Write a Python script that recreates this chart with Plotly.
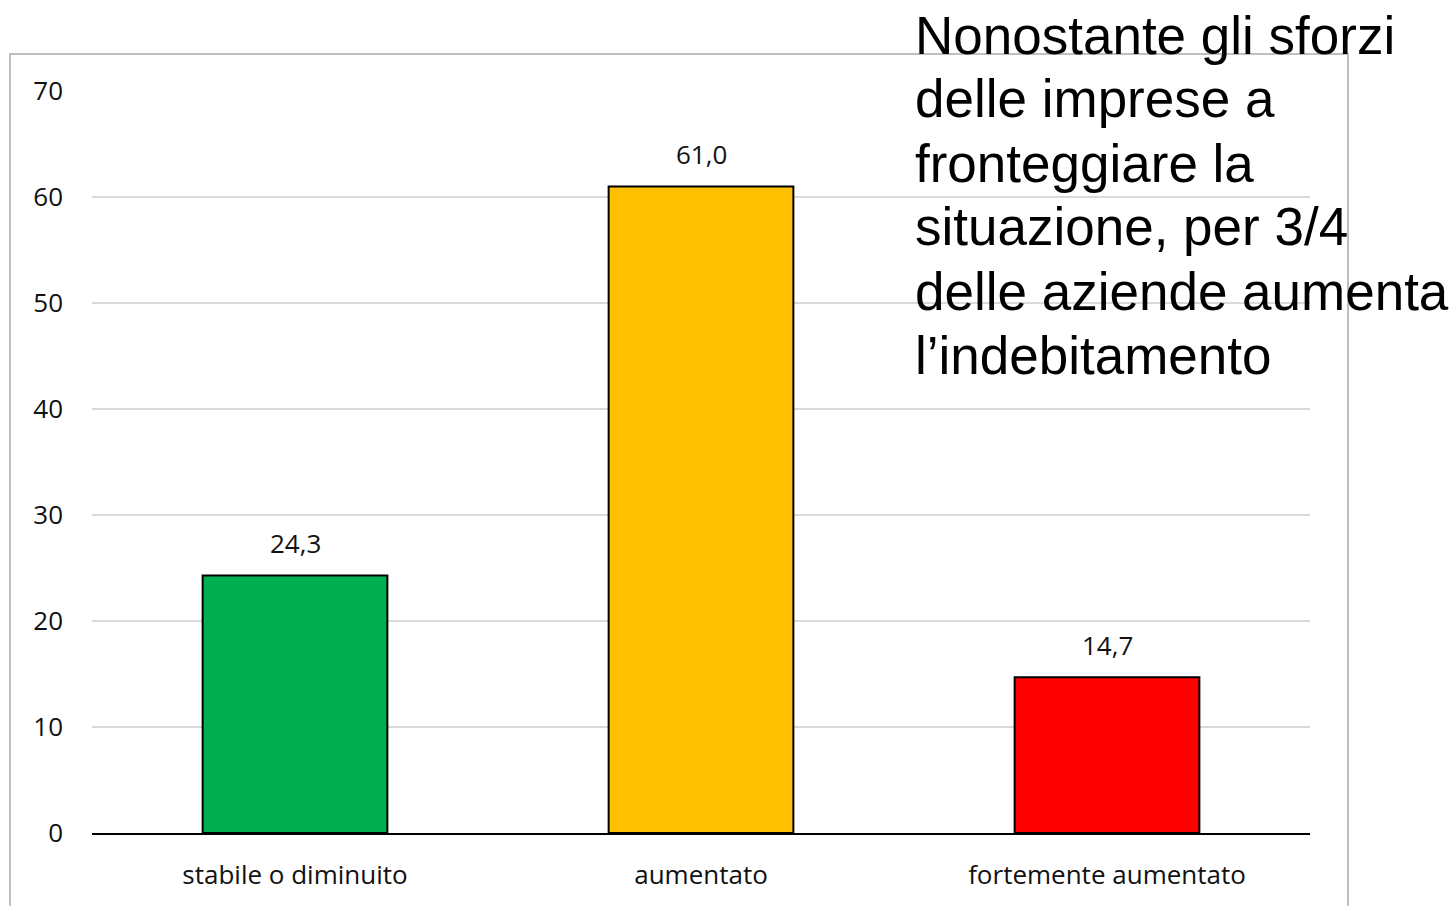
import plotly.graph_objects as go

categories = ['stabile o diminuito', 'aumentato', 'fortemente aumentato']
values = [24.3, 61.0, 14.7]
bar_colors = ['#00b050', '#ffc000', '#ff0000']
y_ticks = [0, 10, 20, 30, 40, 50, 60, 70]
note_lines = ['Nonostante gli sforzi', 'delle imprese a', 'fronteggiare la',
              'situazione, per 3/4', 'delle aziende aumenta', 'l\u2019indebitamento']

W, H = 1454, 906
L, R, T, B = 92, 144, 91, 73
pw, ph = W - L - R, H - T - B


def px(x):
    return (x - L) / pw


def py(y):
    return (H - B - y) / ph


fig = go.Figure()
fig.add_trace(go.Bar(
    x=categories, y=values,
    marker=dict(color=bar_colors, line=dict(color='black', width=2)),
    hoverinfo='skip'
))

# data labels sitting above each bar
for c, v in zip(categories, values):
    fig.add_annotation(x=c, y=v, text=f'{v:.1f}'.replace('.', ','),
                       showarrow=False, yanchor='middle', yshift=32,
                       font=dict(family='Open Sans, sans-serif', size=26, color='#111111'))

# the big note at top right, one line per annotation to keep the tight spacing
for i, line in enumerate(note_lines):
    fig.add_annotation(xref='paper', yref='paper', x=px(913), y=py(35 + 64 * i),
                       xanchor='left', yanchor='middle', align='left', showarrow=False,
                       text=line,
                       font=dict(family='Liberation Sans, Arial, sans-serif', size=53, color='black'))

# chart frame
fig.add_shape(type='rect', xref='paper', yref='paper',
              x0=px(10), x1=px(1348), y0=py(930), y1=py(54),
              line=dict(color='#bfbfbf', width=2), layer='below')

fig.update_layout(
    width=W, height=H,
    margin=dict(l=L, r=R, t=T, b=B),
    plot_bgcolor='white', paper_bgcolor='white',
    bargap=0.545, showlegend=False,
    font=dict(family='Open Sans, sans-serif', size=26, color='#111111'),
)
fig.update_yaxes(range=[0, 70], tickvals=y_ticks, showgrid=True,
                 gridcolor='#d9d9d9', gridwidth=2, zeroline=False,
                 showline=False, ticklabelstandoff=28, fixedrange=True)
fig.update_xaxes(showline=True, linecolor='black', linewidth=2,
                 ticklabelstandoff=18, fixedrange=True)

fig.write_html('out.html', config={'displayModeBar': False},
               post_script="document.body.style.margin='0';")
